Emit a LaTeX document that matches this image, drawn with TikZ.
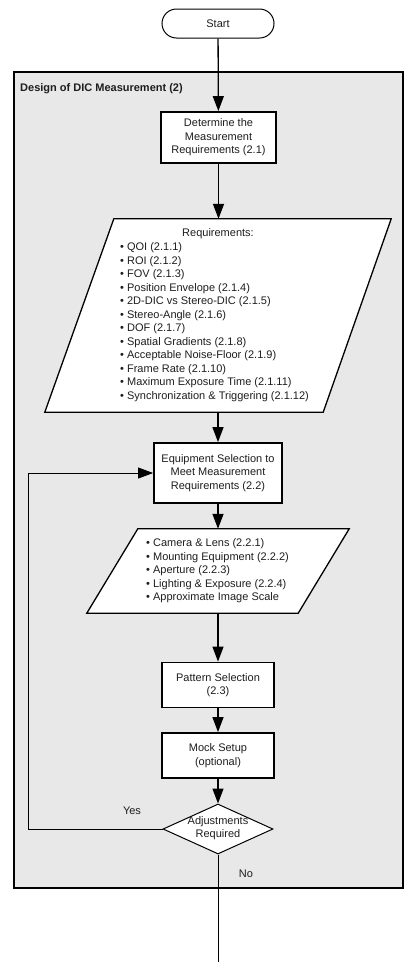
\documentclass[tikz,border=0pt]{standalone}
\usepackage{fontspec}
\setmainfont{Liberation Sans}
\usetikzlibrary{arrows.meta,shapes.geometric,calc}
\definecolor{bg}{RGB}{232,232,232}
\definecolor{txt}{RGB}{30,30,30}
\begin{document}
\begin{tikzpicture}[x=1pt,y=-1pt,
  font=\fontsize{11}{13.5}\selectfont, text=txt,
  box/.style={draw, line width=1.8pt, fill=white, align=center, inner sep=0pt},
  arr/.style={line width=1.3pt, -{Triangle[length=15pt,width=11pt]}},
  lin/.style={line width=0.9pt},
  plain/.style={inner sep=0pt, align=left}]
\useasboundingbox (0,0) rectangle (406,962);
% frame
\node[draw, fill=bg, line width=1.4pt, minimum width=389, minimum height=816, inner sep=0pt] (frame) at (208.5,480) {};
\node[plain, anchor=west, font=\fontsize{11}{13.5}\selectfont\bfseries] (title) at (20,89) {Design of DIC Measurement (2)};
% start
\node[draw, fill=white, line width=1pt, rounded corners=14.5pt, minimum width=112, minimum height=29, inner sep=0pt] (start) at (218,23.5) {Start};
% box 1
\node[box, minimum width=115, minimum height=51] (b1) at (218.5,137.5) {Determine the\\Measurement\\Requirements (2.1)};
% parallelogram 1
\node[inner sep=0pt, minimum width=346, minimum height=193] (p1) at (218,315.5) {};
\draw[line width=1.3pt, fill=white] ($(p1.north west)+(69,0)$) -- (p1.north east) -- ($(p1.south east)+(-68,0)$) -- (p1.south west) -- cycle;
\node[plain] (p1h) at (218,234) {Requirements:};
\node[plain, anchor=west] (p1t) at (120,322) {• QOI (2.1.1)\\• ROI (2.1.2)\\• FOV (2.1.3)\\• Position Envelope (2.1.4)\\• 2D-DIC vs Stereo-DIC (2.1.5)\\• Stereo-Angle (2.1.6)\\• DOF (2.1.7)\\• Spatial Gradients (2.1.8)\\• Acceptable Noise-Floor (2.1.9)\\• Frame Rate (2.1.10)\\• Maximum Exposure Time (2.1.11)\\• Synchronization \& Triggering (2.1.12)};
% box 2
\node[box, minimum width=128, minimum height=60] (b2) at (218,473) {Equipment Selection to\\Meet Measurement\\Requirements (2.2)};
% parallelogram 2
\node[inner sep=0pt, minimum width=262, minimum height=84] (p2) at (218,571) {};
\draw[line width=1.3pt, fill=white] ($(p2.north west)+(51,0)$) -- (p2.north east) -- ($(p2.south east)+(-51,0)$) -- (p2.south west) -- cycle;
\node[plain, anchor=west] (p2t) at (146,571) {• Camera \& Lens (2.2.1)\\• Mounting Equipment (2.2.2)\\• Aperture (2.2.3)\\• Lighting \& Exposure (2.2.4)\\• Approximate Image Scale};
% box 3, 4
\node[box, minimum width=112, minimum height=45] (b3) at (218,685) {Pattern Selection\\(2.3)};
\node[box, minimum width=112, minimum height=45] (b4) at (218,755.5) {Mock Setup\\(optional)};
% decision
\node[draw, diamond, fill=white, line width=1pt, minimum width=110, minimum height=50, inner sep=0pt] (d) at (218,829) {};
\node[plain, align=center] (dt) at (218,828) {Adjustments\\Required};
\coordinate (loopA) at (28,829);
\coordinate (loopB) at (28,473);
\coordinate (endp) at (218,962);
% connectors
\draw[arr] (start) -- (b1);
\draw[arr] (b1) -- (b1 |- p1.north);
\draw[arr] (p1.south) -- (b2);
\draw[arr] (b2) -- (b2 |- p2.north);
\draw[arr] (p2.south) -- (b3);
\draw[arr] (b3) -- (b4);
\draw[arr] (b4) -- (d);
\draw[lin, -{Triangle[length=15pt,width=11pt]}] (d.west) -- (loopA) -- (loopB) -- (b2.west);
\draw[lin] (d.south) -- (endp);
\node[plain] (yes) at (132,811) {Yes};
\node[plain] (no) at (246,874) {No};
\end{tikzpicture}
\end{document}
